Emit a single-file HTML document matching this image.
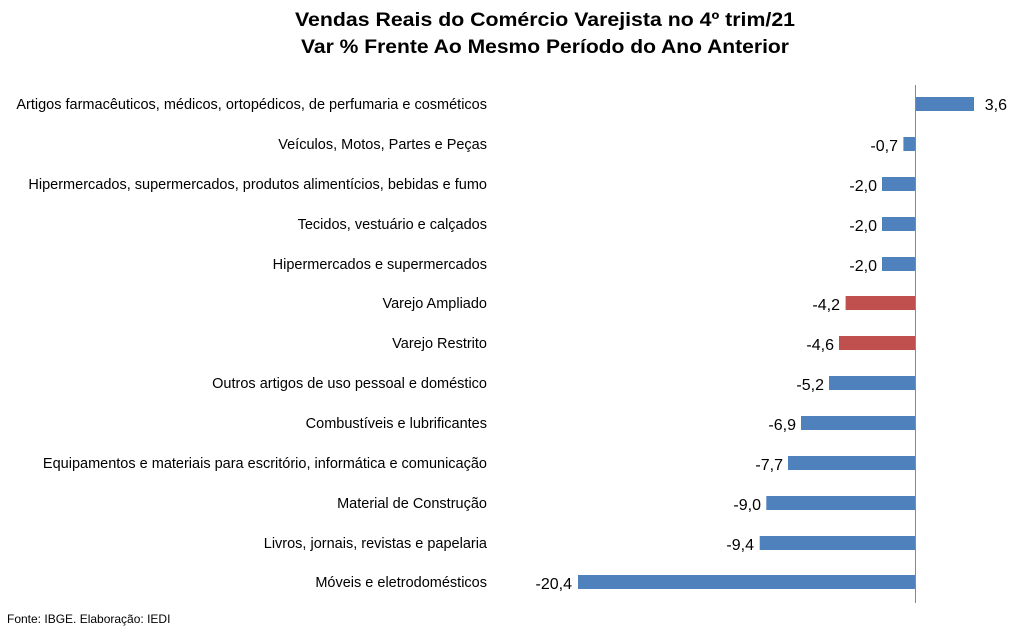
<!DOCTYPE html>
<html><head><meta charset="utf-8"><style>
html,body{margin:0;padding:0;background:#fff;}
svg{display:block;font-family:"Liberation Sans",sans-serif;}
</style></head><body>
<svg width="1013" height="632" viewBox="0 0 1013 632">
<text x="545" y="26" text-anchor="middle" font-size="19" font-weight="bold" fill="#000" textLength="500" lengthAdjust="spacingAndGlyphs">Vendas Reais do Comércio Varejista no 4º trim/21</text>
<text x="545" y="53" text-anchor="middle" font-size="19" font-weight="bold" fill="#000" textLength="488" lengthAdjust="spacingAndGlyphs">Var % Frente Ao Mesmo Período do Ano Anterior</text>
<g font-size="14.5" fill="#000" text-anchor="end">
<text x="487" y="109">Artigos farmacêuticos, médicos, ortopédicos, de perfumaria e cosméticos</text>
<text x="487" y="149">Veículos, Motos, Partes e Peças</text>
<text x="487" y="189">Hipermercados, supermercados, produtos alimentícios, bebidas e fumo</text>
<text x="487" y="229">Tecidos, vestuário e calçados</text>
<text x="487" y="269">Hipermercados e supermercados</text>
<text x="487" y="308">Varejo Ampliado</text>
<text x="487" y="348">Varejo Restrito</text>
<text x="487" y="388">Outros artigos de uso pessoal e doméstico</text>
<text x="487" y="428">Combustíveis e lubrificantes</text>
<text x="487" y="468">Equipamentos e materiais para escritório, informática e comunicação</text>
<text x="487" y="508">Material de Construção</text>
<text x="487" y="548">Livros, jornais, revistas e papelaria</text>
<text x="487" y="587">Móveis e eletrodomésticos</text>
</g>
<g fill="#4f81bd">
<rect x="915" y="97" width="59" height="14"/>
<rect x="903.4" y="137" width="11.6" height="14"/>
<rect x="882" y="177" width="33" height="14"/>
<rect x="882" y="217" width="33" height="14"/>
<rect x="882" y="257" width="33" height="14"/>
<rect x="829" y="376" width="86" height="14"/>
<rect x="801" y="416" width="114" height="14"/>
<rect x="788" y="456" width="127" height="14"/>
<rect x="766.3" y="496" width="148.7" height="14"/>
<rect x="759.7" y="536" width="155.3" height="14"/>
<rect x="578" y="575" width="337" height="14"/>
</g>
<g fill="#c0504d">
<rect x="845.6" y="296" width="69.4" height="14"/>
<rect x="839" y="336" width="76" height="14"/>
</g>
<line x1="915.5" y1="85" x2="915.5" y2="603" stroke="#888" stroke-width="1"/>
<g font-size="16" fill="#000" text-anchor="end">
<text x="1007" y="110">3,6</text>
<text x="898" y="151">-0,7</text>
<text x="877" y="191">-2,0</text>
<text x="877" y="231">-2,0</text>
<text x="877" y="271">-2,0</text>
<text x="840" y="310">-4,2</text>
<text x="834" y="350">-4,6</text>
<text x="824" y="390">-5,2</text>
<text x="796" y="430">-6,9</text>
<text x="783" y="470">-7,7</text>
<text x="761" y="510">-9,0</text>
<text x="754" y="550">-9,4</text>
<text x="572" y="589">-20,4</text>
</g>
<text x="7" y="623" font-size="12" fill="#000">Fonte: IBGE. Elaboração: IEDI</text>
</svg>
</body></html>
